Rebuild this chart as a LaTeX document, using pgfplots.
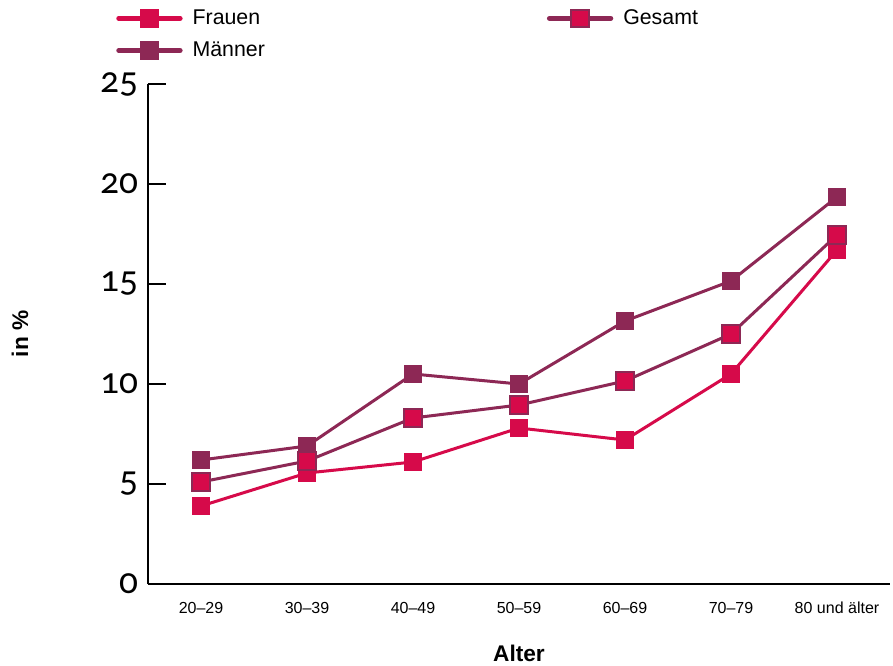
\documentclass[border=0pt]{standalone}
\usepackage{fontspec}
\setmainfont{Liberation Sans}
\newfontfamily\oldnums{Carlito}[Numbers=OldStyle]
\usepackage{pgfplots}
\pgfplotsset{compat=1.18}

\definecolor{frauenred}{RGB}{214,10,74}
\definecolor{maennerpurple}{RGB}{141,40,85}

\tikzset{
  frauen/.style={color=frauenred, line width=2.25pt, mark=square*,
    mark options={fill=frauenred, draw=frauenred, line width=1pt}},
  maenner/.style={color=maennerpurple, line width=2.25pt, mark=square*,
    mark options={fill=maennerpurple, draw=maennerpurple, line width=1pt}},
  gesamt/.style={color=maennerpurple, line width=2.25pt, mark=square*,
    mark options={fill=frauenred, draw=maennerpurple, line width=1.5pt}},
}

\begin{document}
\begin{tikzpicture}
\begin{axis}[
    scale only axis,
    width=556.5pt, height=375pt,
    xmin=-0.5, xmax=6.5,
    ymin=0, ymax=25,
    axis x line*=bottom, axis y line*=left,
    axis line style={line width=2pt, black},
    tick align=inside,
    tick style={line width=2pt, black},
    xtick={0,...,6},
    xticklabels={20–29,30–39,40–49,50–59,60–69,70–79,80 und älter},
    x tick label style={font=\fontsize{12}{12}\selectfont, yshift=-10pt},
    xtick style={draw=none},
    minor xtick={-0.5,0.5,...,6.5},
    minor x tick style={line width=2pt, black},
    minor tick length=9pt,
    ytick={0,5,...,25},
    major tick length=13.5pt,
    y tick label style={font=\oldnums\fontsize{28}{28}\selectfont, xshift=-4pt},
    /pgf/number format/assume math mode=true,
    xlabel={\bfseries Alter},
    ylabel={\bfseries in \%},
    xlabel style={font=\fontsize{17}{17}\selectfont, at={(axis description cs:0.5,-0.139)}, anchor=center},
    ylabel style={font=\fontsize{17}{17}\selectfont, at={(axis description cs:-0.1725,0.5)}, anchor=center, rotate=0},
    clip=false,
    legend columns=2,
    legend cell align=left,
    legend style={draw=none, fill=none, inner sep=0pt,
      at={(axis description cs:-0.0431,1.154)}, anchor=north west,
      font=\fontsize{16}{16}\selectfont,
      row sep=7.5pt,
      /tikz/every odd column/.append style={column sep=5.5pt},
      /tikz/column 2/.append style={column sep=209.5pt}},
    legend image code/.code={
      \draw[#1, line width=3.75pt, line cap=round] (0pt,0pt) -- (46pt,0pt);
      \draw[#1, mark size=6.6pt] plot coordinates {(23pt,0pt)};
    },
]
\addlegendimage{frauen}
\addlegendentry{Frauen}
\addlegendimage{gesamt}
\addlegendentry{Gesamt}
\addlegendimage{maenner}
\addlegendentry{Männer}

% Frauen
\addplot[frauen, mark size=6.6pt, forget plot] coordinates {
    (0,3.9) (1,5.55) (2,6.1) (3,7.8) (4,7.2) (5,10.5) (6,16.7)
};
% Männer
\addplot[maenner, mark size=6.6pt, forget plot] coordinates {
    (0,6.2) (1,6.9) (2,10.5) (3,10.0) (4,13.15) (5,15.15) (6,19.35)
};
% Gesamt
\addplot[gesamt, mark size=6.4pt, forget plot] coordinates {
    (0,5.1) (1,6.15) (2,8.3) (3,8.95) (4,10.15) (5,12.5) (6,17.45)
};
\end{axis}
\pgfresetboundingbox
\path[use as bounding box] (-111pt,-60.75pt) rectangle (558.75pt,438pt);
\end{tikzpicture}
\end{document}
